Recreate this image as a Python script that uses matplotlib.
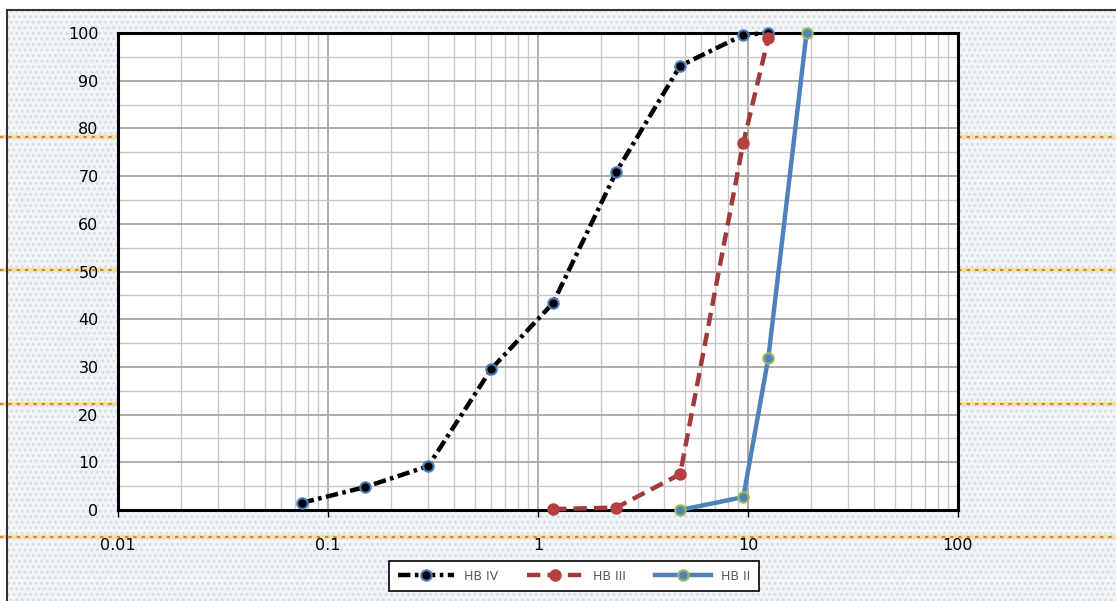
import numpy as np
import matplotlib
matplotlib.use('Agg')
import matplotlib.pyplot as plt
from matplotlib.patches import Rectangle
from matplotlib.lines import Line2D
from matplotlib.ticker import LogLocator, FixedLocator, NullFormatter

# sieve size (mm) and percent passing
hb4_x = [0.075, 0.15, 0.3, 0.6, 1.18, 2.36, 4.75, 9.5, 12.5]
hb4_y = [1.5, 4.8, 9.2, 29.6, 43.4, 70.9, 93.1, 99.6, 100]
hb3_x = [1.18, 2.36, 4.75, 9.5, 12.5]
hb3_y = [0.2, 0.5, 7.5, 77, 99]
hb2_x = [4.75, 9.5, 12.5, 19]
hb2_y = [0, 2.7, 31.9, 100]

x_ticks = [0.01, 0.1, 1, 10, 100]
x_labels = ['0.01', '0.1', '1', '10', '100']
y_ticks = list(range(0, 101, 10))


def background(fig):
    """ Dotted backdrop with a frame line on top and left """
    W, H = 1116, 601
    plt.rcParams['hatch.linewidth'] = 1.2
    bg = Rectangle((7 / W, 0), 1, 1 - 10 / H, transform=fig.transFigure,
                   facecolor='#f1f4f8', edgecolor='#d5dbe3', hatch='...',
                   linewidth=0, zorder=-10)
    fig.add_artist(bg)
    fig.add_artist(Line2D([7 / W, 1], [1 - 10 / H] * 2, color='#333333',
                          lw=1.5, transform=fig.transFigure, zorder=-5))
    fig.add_artist(Line2D([7 / W] * 2, [0, 1 - 10 / H], color='#333333',
                          lw=1.5, transform=fig.transFigure, zorder=-5))
    # faint coloured streaks across the backdrop
    for yp in [137, 270, 404, 537]:
        y = 1 - yp / H
        fig.add_artist(Line2D([0, 1], [y, y], color='#f7dc7a', lw=3,
                              alpha=0.8, transform=fig.transFigure, zorder=-8))
        fig.add_artist(Line2D([0, 1], [y, y], color='#a04040', lw=1.2,
                              ls=(0, (2, 3)), alpha=0.7,
                              transform=fig.transFigure, zorder=-7))


def grading_curve():
    fig = plt.figure(figsize=(11.16, 6.01), dpi=100)
    fig.patch.set_facecolor('white')
    background(fig)

    ax = fig.add_axes([118 / 1116, 1 - 510 / 601, 840 / 1116, 477 / 601])
    ax.set_facecolor('white')
    ax.set_xscale('log')
    ax.set_xlim(0.01, 100)
    ax.set_ylim(0, 100)

    ax.xaxis.set_major_locator(FixedLocator(x_ticks))
    ax.set_xticklabels(x_labels)
    ax.xaxis.set_minor_locator(LogLocator(base=10, subs=np.arange(2, 10)))
    ax.xaxis.set_minor_formatter(NullFormatter())
    ax.set_yticks(y_ticks)
    ax.yaxis.set_minor_locator(FixedLocator(np.arange(5, 100, 10)))

    ax.grid(which='major', color='#a6a6a6', lw=1.3)
    ax.grid(which='minor', color='#c8c8c8', lw=1.0)
    ax.set_axisbelow(True)

    ax.tick_params(axis='x', which='major', length=5, width=1, direction='out',
                   pad=15, labelsize=11.5)
    ax.tick_params(axis='x', which='minor', length=0)
    ax.tick_params(axis='y', which='both', length=0, pad=14, labelsize=11.5)
    for s in ax.spines.values():
        s.set_linewidth(2.2)
        s.set_color('black')

    ax.plot(hb4_x, hb4_y, color='black', lw=3.2, ls=(0, (2.8, 1.0, 0.8, 1.0)),
            marker='o', ms=7.5, mfc='black', mec='#4a7ebb', mew=1.5,
            label='HB IV', clip_on=False, zorder=5)
    ax.plot(hb3_x, hb3_y, color='#a13b3b', lw=3.2, ls=(0, (3, 1.6)),
            marker='o', ms=7.5, mfc='#b5403f', mec='#b5403f', mew=1.5,
            label='HB III', clip_on=False, zorder=5)
    ax.plot(hb2_x, hb2_y, color='#4f81bd', lw=3.2, ls='-',
            marker='o', ms=7.5, mfc='#4f81bd', mec='#9bbb59', mew=1.5,
            label='HB II', clip_on=False, zorder=5)

    leg = fig.legend(loc='center', bbox_to_anchor=(574 / 1116, 1 - 576 / 601),
                     ncol=3, fontsize=9, handlelength=4.5, numpoints=1,
                     columnspacing=2.3, fancybox=False, framealpha=1,
                     edgecolor='black', borderpad=0.7, labelcolor='#595959')
    leg.get_frame().set_linewidth(1.2)

    fig.savefig('out.png', dpi=100)


def main():
    grading_curve()


if __name__ == "__main__":
    main()
